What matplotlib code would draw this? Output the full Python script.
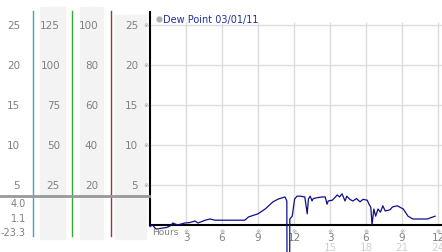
import matplotlib
matplotlib.use('Agg')
import matplotlib.pyplot as plt
from matplotlib.lines import Line2D
from matplotlib.patches import Rectangle
from matplotlib.transforms import blended_transform_factory

# dew point readings, hours since midnight
hours = [0.0, 0.2, 0.5, 1.0, 1.4, 1.7, 1.9, 2.3, 2.9, 3.3, 3.75, 4.0, 4.6, 5.0,
         5.4, 6.25, 7.9, 8.2, 9.0, 9.6, 10.25, 10.7, 11.25, 11.4, 11.45, 11.6,
         11.65, 11.85, 12.05, 12.25, 12.5, 12.9, 13.1, 13.2, 13.35, 13.5, 13.6,
         13.9, 14.3, 14.6, 14.75, 14.85, 15.2, 15.6, 15.8, 16.0, 16.25, 16.4,
         16.65, 16.9, 17.2, 17.5, 17.75, 18.1, 18.25, 18.4, 18.5, 18.65, 18.8,
         19.0, 19.2, 19.4, 19.6, 20.0, 20.2, 20.6, 20.85, 21.1, 21.5, 21.9,
         23.1, 23.75]
dew_point = [-0.2, 0.0, -0.5, -0.4, -0.3, -0.1, 0.25, 0.0, 0.25, 0.3, 0.5, 0.25,
             0.6, 0.75, 0.6, 0.6, 0.6, 1.0, 1.4, 2.0, 2.9, 3.25, 3.5, 3.0, -23.3,
             -23.3, 0.75, 1.1, 3.25, 3.6, 3.6, 3.5, 1.4, 3.25, 3.6, 3.0, 3.3,
             3.4, 3.5, 3.5, 2.6, 3.0, 3.1, 3.75, 3.5, 3.9, 3.0, 3.6, 3.2, 3.0,
             3.3, 2.9, 3.2, 3.1, 2.6, 2.2, 0.0, 2.0, 1.1, 2.0, 1.6, 2.4, 1.75,
             1.9, 2.25, 2.4, 2.2, 2.0, 1.1, 0.75, 0.75, 1.1]

scale_c = [25, 20, 15, 10, 5]
scale_a = [125, 100, 75, 50, 25]
scale_b = [100, 80, 60, 40, 20]
scale_d = [25, 20, 15, 10, 5]
stats = ['4.0', '1.1', '-23.3']

x_ticks = [3, 6, 9, 12, 15, 18, 21, 24]
x_labels = ['3', '6', '9', '12', '3', '6', '9', '12']
x_labels2 = ['', '', '', '', '15', '18', '21', '24']

W, H = 442, 253
grey = '#808080'
fs = 6.5

fig = plt.figure(figsize=(W / 100, H / 100), dpi=100)
ax = fig.add_axes([150 / W, 27 / H, 292 / W, 213 / H])
ax.set_xlim(0, 24.33)
ax.set_ylim(0, 26.6)

# grid
for v in scale_d:
    ax.axhline(v, color='#dcdcdc', lw=1, zorder=0)
ax.vlines(x_ticks, 0, 25.3, color='#dcdcdc', lw=1, zorder=0)

ax.plot(hours, dew_point, color='#10108a', lw=0.9, clip_on=False, zorder=3)

for s in ['top', 'right']:
    ax.spines[s].set_visible(False)
ax.spines['left'].set_linewidth(1.5)
ax.spines['bottom'].set_linewidth(1.5)
ax.set_yticks([])
ax.set_xticks(x_ticks)
ax.set_xticklabels(x_labels, fontsize=fs + 1, color=grey)
ax.tick_params(axis='x', length=0, pad=5)

xt = ax.get_xaxis_transform()
for x, lab in zip(x_ticks, x_labels2):
    ax.text(x, -0.024, '※', transform=xt, ha='center', va='center',
            fontsize=4.5, color='#999999')
    if lab:
        ax.text(x, -0.102, lab, transform=xt, ha='center', va='center',
                fontsize=fs + 1, color='#d0d0d0')
ax.text(1.25, -0.03, 'Hours', transform=xt, ha='center', va='center',
        fontsize=fs, color=grey)

# title
ax.plot([0.75], [25.75], 'o', ms=3.5, color='#b0b0b0', clip_on=False)
ax.text(1.1, 25.7, 'Dew Point 03/01/11', fontsize=7, color='#2030a0',
        va='center', ha='left')

# left panel
ft = fig.transFigure
for x0, x1, ytop in [(40, 65, 245), (80, 103, 245), (115, 146, 237)]:
    fig.patches.append(Rectangle((x0 / W, 13 / H), (x1 - x0) / W, (ytop - 13) / H,
                                 transform=ft, color='#f3f3f3', zorder=0))
for x, c in [(33, '#3aa5c5'), (72, '#35a835'), (111, '#b03030')]:
    fig.add_artist(Line2D([x / W, x / W], [16 / H, 241 / H], transform=ft,
                          color=c, lw=1))
fig.add_artist(Line2D([0, 149 / W], [56 / H, 56 / H], transform=ft,
                      color='#999999', lw=2))

bt = blended_transform_factory(ft, ax.transData)
for i in range(len(scale_c)):
    y = scale_d[i]
    fig.text(20 / W, y, str(scale_c[i]), transform=bt, ha='right', va='center',
             fontsize=fs + 1, color=grey)
    fig.text(60 / W, y, str(scale_a[i]), transform=bt, ha='right', va='center',
             fontsize=fs + 1, color=grey)
    fig.text(98 / W, y, str(scale_b[i]), transform=bt, ha='right', va='center',
             fontsize=fs + 1, color=grey)
    fig.text(138 / W, y, str(scale_d[i]), transform=bt, ha='right', va='center',
             fontsize=fs + 1, color=grey)
    fig.text(146 / W, y, '※', transform=bt, ha='center', va='center',
             fontsize=4.5, color='#999999')

for i, s in enumerate(stats):
    fig.text(26 / W, (H - 204.5 - 14.5 * i) / H, s, ha='right', va='center',
             fontsize=fs + 0.5, color=grey)

fig.savefig('out.png', dpi=100)
